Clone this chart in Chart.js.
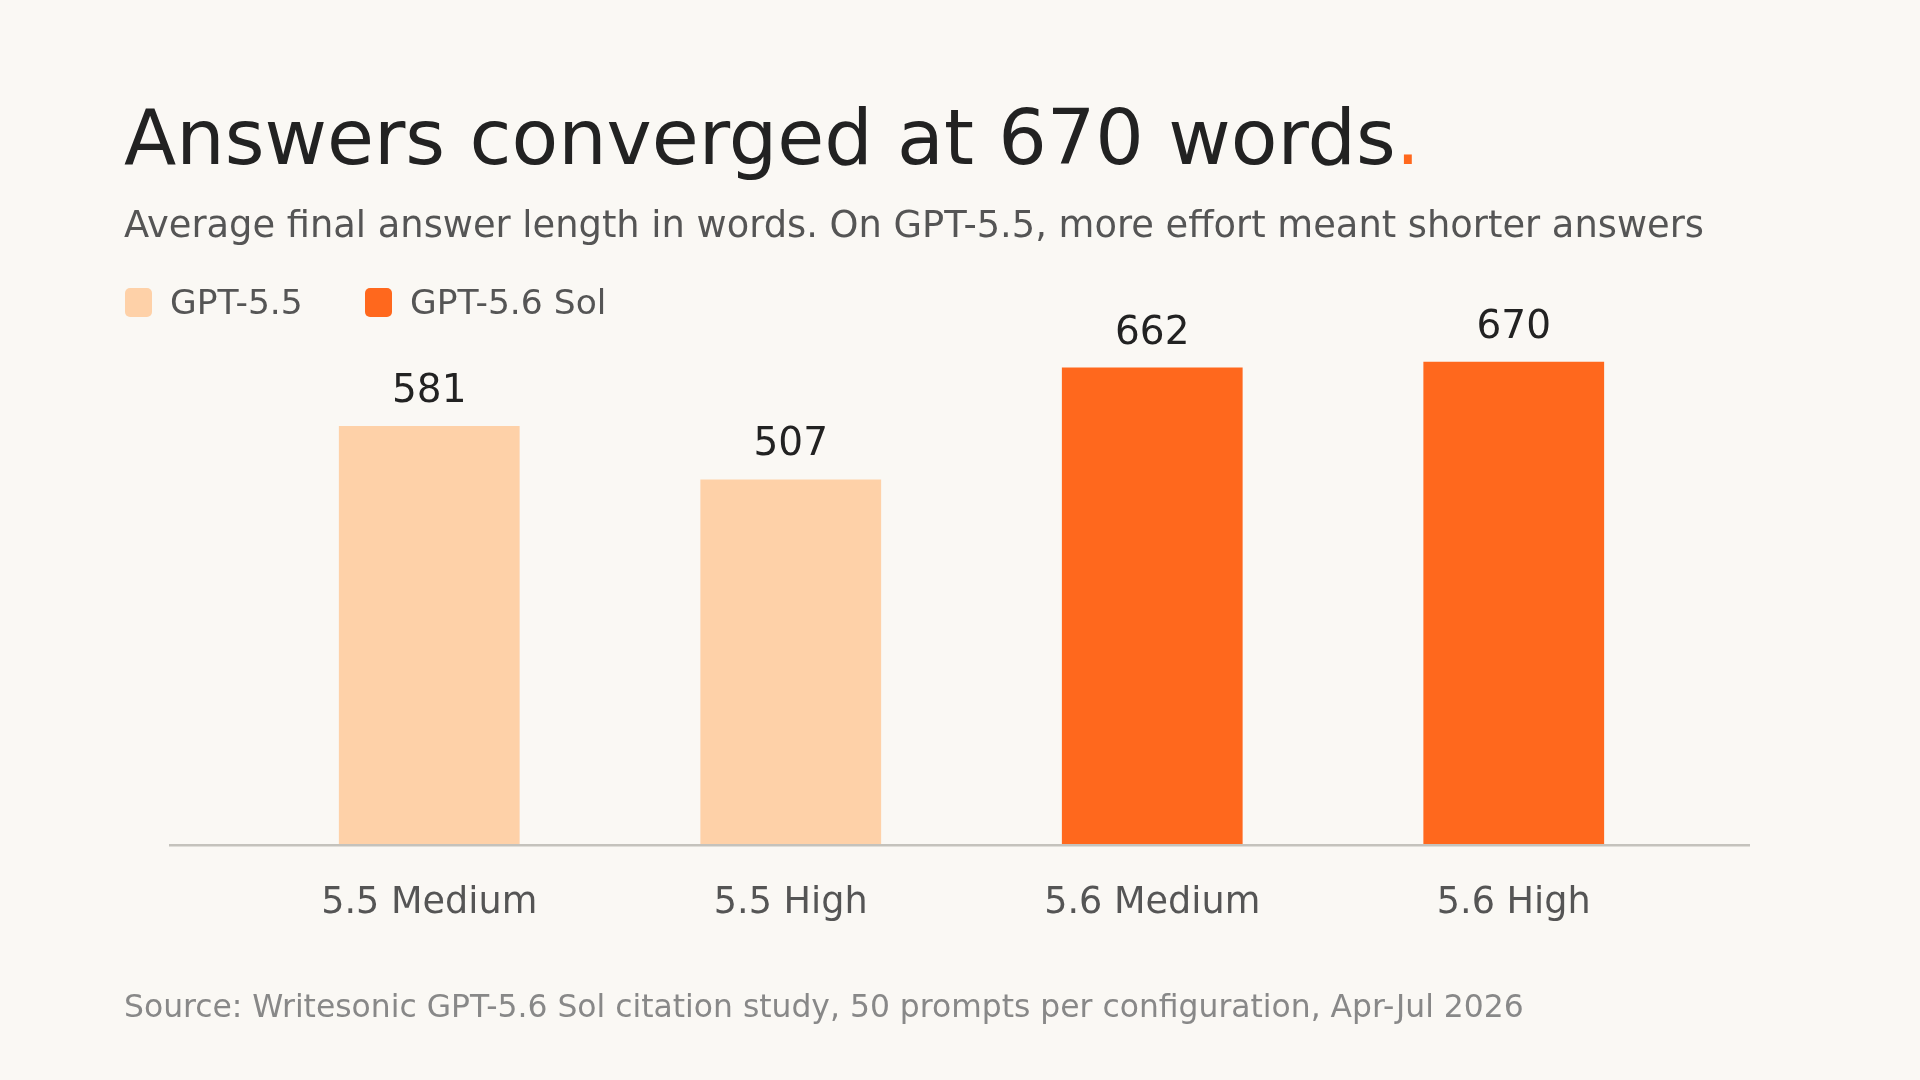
<!DOCTYPE html>
<html>
<head>
<meta charset="utf-8">
<script src="https://cdn.jsdelivr.net/npm/chart.js@4/dist/chart.umd.min.js"></script>
<style>
  html, body { margin: 0; padding: 0; background: #faf8f4; }
  body { width: 1920px; height: 1080px; position: relative; overflow: hidden; font-family: "DejaVu Sans", sans-serif; }
  #chart { position: absolute; left: 0; top: 0; }
  .txt { position: absolute; line-height: 1; white-space: nowrap; }
  #title { left: 124px; top: 100px; font-size: 76.4px; color: #222; }
  #title span { color: #ff681d; }
  #subtitle { left: 124px; top: 207px; font-size: 36.8px; color: #555; }
  .legend { top: 285px; font-size: 34.5px; color: #555; }
  .swatch { position: absolute; top: 288px; width: 27px; height: 29px; border-radius: 5px; }
  #source { left: 124px; top: 991px; font-size: 31.4px; color: #888; }
</style>
</head>
<body>
<canvas id="chart" width="1920" height="1080"></canvas>
<div class="txt" id="title">Answers converged at 670 words<span>.</span></div>
<div class="txt" id="subtitle">Average final answer length in words. On GPT-5.5, more effort meant shorter answers</div>
<div class="swatch" style="left:125px; background:#fed1a8"></div>
<div class="txt legend" style="left:170px">GPT-5.5</div>
<div class="swatch" style="left:365px; background:#ff681d"></div>
<div class="txt legend" style="left:410px">GPT-5.6 Sol</div>
<div class="txt" id="source">Source: Writesonic GPT-5.6 Sol citation study, 50 prompts per configuration, Apr-Jul 2026</div>
<script>
  const categories = ["5.5 Medium", "5.5 High", "5.6 Medium", "5.6 High"];
  const gpt55 = [581, 507, null, null];
  const gpt56 = [null, null, 662, 670];

  const lightColor = "#fed1a8";
  const orange = "#ff681d";

  // value labels above each bar
  const valueLabels = {
    id: "valueLabels",
    afterDatasetsDraw(chart) {
      const ctx = chart.ctx;
      ctx.save();
      ctx.font = '39px "DejaVu Sans"';
      ctx.fillStyle = "#222";
      ctx.textAlign = "center";
      ctx.textBaseline = "alphabetic";
      chart.data.datasets.forEach((ds, i) => {
        chart.getDatasetMeta(i).data.forEach((bar, j) => {
          if (ds.data[j] == null) return;
          ctx.fillText(String(ds.data[j]), bar.x, bar.y - 24);
        });
      });
      ctx.restore();
    },
  };

  // baseline running wider than the bars
  const baseline = {
    id: "baseline",
    afterDatasetsDraw(chart) {
      const ctx = chart.ctx;
      const y = chart.scales.y.getPixelForValue(0);
      ctx.save();
      ctx.strokeStyle = "#c4c2bc";
      ctx.lineWidth = 2.6;
      ctx.beginPath();
      ctx.moveTo(169, y);
      ctx.lineTo(1750, y);
      ctx.stroke();
      ctx.restore();
    },
  };

  new Chart(document.getElementById("chart"), {
    type: "bar",
    data: {
      labels: categories,
      datasets: [
        { label: "GPT-5.5", data: gpt55, backgroundColor: lightColor, skipNull: true },
        { label: "GPT-5.6 Sol", data: gpt56, backgroundColor: orange, skipNull: true },
      ],
    },
    options: {
      responsive: false,
      animation: false,
      devicePixelRatio: 1,
      layout: { padding: { left: 248.5, right: 225.5, top: 268, bottom: 118.8 } },
      datasets: { bar: { barPercentage: 0.5, categoryPercentage: 1.0, borderWidth: 0 } },
      plugins: { legend: { display: false }, tooltip: { enabled: false } },
      scales: {
        x: {
          grid: { display: false, drawTicks: false },
          border: { display: false },
          ticks: { color: "#555", font: { family: "DejaVu Sans", size: 36.6 }, padding: 36 },
        },
        y: { display: false, min: 0, max: 800 },
      },
    },
    plugins: [valueLabels, baseline],
  });
</script>
</body>
</html>
